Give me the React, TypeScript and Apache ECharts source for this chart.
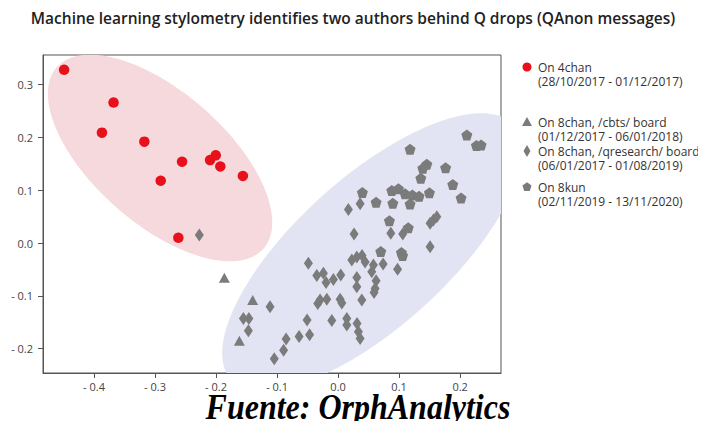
import React, { useEffect, useRef } from "react";
import * as echarts from "echarts";

// ---------- data ----------
const title =
  "Machine learning stylometry identifies two authors behind Q drops (QAnon messages)";
const sourceNote = "Fuente: OrphAnalytics";

const xTicks = [-0.4, -0.3, -0.2, -0.1, 0, 0.1, 0.2];
const yTicks = [-0.2, -0.1, 0, 0.1, 0.2, 0.3];
const xRange = [-0.4836, 0.267];
const yRange = [-0.246, 0.356];

const seriesNames = [
  "On 4chan",
  "On 8chan, /cbts/ board",
  "On 8chan, /qresearch/ board",
  "On 8kun",
];
const seriesPeriods = [
  "(28/10/2017 - 01/12/2017)",
  "(01/12/2017 - 06/01/2018)",
  "(06/01/2017 - 01/08/2019)",
  "(02/11/2019 - 13/11/2020)",
];

const on4chan: [number, number][] = [
  [-0.449, 0.328], [-0.368, 0.266], [-0.387, 0.209], [-0.3175, 0.192],
  [-0.2557, 0.154], [-0.2907, 0.118], [-0.2098, 0.157], [-0.2005, 0.166],
  [-0.193, 0.145], [-0.156, 0.127], [-0.2618, 0.01],
];

const on8chanCbts: [number, number][] = [
  [-0.1864, -0.0657], [-0.1399, -0.108], [-0.1618, -0.185],
];

const on8chanQresearch: [number, number][] = [
  [-0.2274, 0.0152], [0.0169, 0.0634], [0.0361, 0.0744], [0.0262, 0.017],
  [0.0864, 0.0184], [0.106, 0.017], [0.1508, 0.0373], [0.1562, 0.0436],
  [0.1618, 0.0498], [0.1508, -0.007], [-0.0487, -0.0384], [0.0225, -0.0322],
  [0.0307, -0.0265], [0.0393, -0.0237], [0.0443, -0.036], [0.0579, -0.0417],
  [0.0738, -0.0398], [0.0552, -0.0544], [0.0975, -0.0498], [-0.0349, -0.0616],
  [-0.0241, -0.0574], [-0.0197, -0.0748], [-0.0077, -0.0691], [0.0044, -0.0606],
  [0.0307, -0.0653], [0.0307, -0.0828], [0.0623, -0.0714], [0.0607, -0.0858],
  [0.059, -0.0938], [-0.0333, -0.1142], [-0.0295, -0.108], [-0.0185, -0.1066],
  [0.0033, -0.1066], [0.0061, -0.1136], [0.0389, -0.108], [-0.1115, -0.1206],
  [-0.1552, -0.1426], [-0.1462, -0.1426], [-0.147, -0.1661], [-0.0508, -0.1458],
  [-0.0467, -0.1737], [-0.0639, -0.1771], [-0.0103, -0.1468], [0.0143, -0.1426],
  [0.0143, -0.1553], [0.0311, -0.1521], [0.0333, -0.168], [0.0361, -0.1805],
  [-0.0852, -0.1814], [-0.0893, -0.2027], [-0.1046, -0.2191],
];

const on8kun: [number, number][] = [
  [0.211, 0.2045], [0.2267, 0.1847], [0.2344, 0.1856], [0.118, 0.1775],
  [0.1454, 0.149], [0.1389, 0.1415], [0.1762, 0.1424], [0.1356, 0.1225],
  [0.188, 0.1108], [0.2016, 0.0852], [0.1497, 0.0953], [0.088, 0.0994],
  [0.0989, 0.1028], [0.1098, 0.0934], [0.1218, 0.0909], [0.1328, 0.0884],
  [0.0398, 0.0956], [0.0623, 0.0771], [0.0897, 0.0752], [0.118, 0.0739],
  [0.0841, 0.042], [0.07, -0.0161], [0.1038, -0.018], [0.1057, -0.0237],
  [0.115, 0.029],
];

// cluster ellipses: centre and two conjugate semi-axis vectors, in data units
const authorAEllipse = { center: [-0.2918, 0.161], a: [0.1695, -0.1716], b: [0.0713, 0.0939] };
const authorBEllipse = { center: [0.0557, -0.017], a: [0.2315, 0.2407], b: [0.0823, -0.1055] };

// ---------- styles ----------
const RED = "#e8101a";
const GREY = "#7b7b7b";
const PINK = "#f6d9dc";
const LAVENDER = "#e2e4f4";
const PENTAGON = "path://M0,-1 L0.951,-0.309 L0.588,0.809 L-0.588,0.809 L-0.951,-0.309 Z";
const FONT = "'Open Sans', 'Noto Sans', sans-serif";

const fmt = (v: number) => {
  const s = Math.abs(v).toFixed(1);
  return v < -1e-9 ? "- " + s : s;
};

function ellipseSeries(e: typeof authorAEllipse, color: string) {
  return {
    type: "custom",
    silent: true,
    z: 1,
    data: [e.center],
    renderItem: (params: any, api: any) => {
      const c = api.coord(e.center);
      const pa = api.coord([e.center[0] + e.a[0], e.center[1] + e.a[1]]);
      const pb = api.coord([e.center[0] + e.b[0], e.center[1] + e.b[1]]);
      const ax = [pa[0] - c[0], pa[1] - c[1]];
      const bx = [pb[0] - c[0], pb[1] - c[1]];
      const pts: number[][] = [];
      const n = 120;
      for (let i = 0; i < n; i++) {
        const t = (i / n) * Math.PI * 2;
        pts.push([
          c[0] + Math.cos(t) * ax[0] + Math.sin(t) * bx[0],
          c[1] + Math.cos(t) * ax[1] + Math.sin(t) * bx[1],
        ]);
      }
      const cs = params.coordSys;
      return {
        type: "polygon",
        shape: { points: pts },
        style: { fill: color, stroke: "none" },
        clipPath: { type: "rect", shape: { x: cs.x, y: cs.y, width: cs.width, height: cs.height } },
      };
    },
  };
}

export default function App() {
  const ref = useRef<HTMLDivElement>(null);

  useEffect(() => {
    if (!ref.current) return;
    const chart = echarts.init(ref.current, null, { renderer: "svg" });

    const legendX = 527;
    const textX = 538;
    const legendY = [67, 122, 151, 187];
    const lineH = 14.5;
    const icons: any[] = [
      { type: "circle", shape: { cx: legendX, cy: legendY[0], r: 4.5 }, style: { fill: RED } },
      {
        type: "polygon",
        shape: { points: [[legendX, legendY[1] - 5], [legendX + 5, legendY[1] + 4], [legendX - 5, legendY[1] + 4]] },
        style: { fill: GREY },
      },
      {
        type: "polygon",
        shape: { points: [[legendX, legendY[2] - 6], [legendX + 3.5, legendY[2]], [legendX, legendY[2] + 6], [legendX - 3.5, legendY[2]]] },
        style: { fill: GREY },
      },
      {
        type: "polygon",
        shape: {
          points: [0, 1, 2, 3, 4].map((k) => {
            const ang = -Math.PI / 2 + (k * 2 * Math.PI) / 5;
            return [legendX + 4.8 * Math.cos(ang), legendY[3] + 4.8 * Math.sin(ang)];
          }),
        },
        style: { fill: GREY },
      },
    ];
    const legendTexts: any[] = seriesNames.map((name, i) => ({
      type: "text",
      x: textX,
      y: legendY[i] - lineH / 2,
      style: {
        text: name + "\n" + seriesPeriods[i],
        font: `12px ${FONT}`,
        lineHeight: lineH,
        fill: "#333",
        textVerticalAlign: "top",
      },
    }));

    const option: any = {
      animation: false,
      backgroundColor: "#ffffff",
      textStyle: { fontFamily: FONT },
      title: {
        text: title,
        left: "center",
        top: 5,
        textStyle: { fontFamily: FONT, fontSize: 15.5, fontWeight: 600, color: "#222" },
      },
      grid: {
        left: 43,
        top: 55,
        width: 458,
        height: 318,
        show: true,
        borderColor: "#555",
        borderWidth: 1,
        backgroundColor: "transparent",
        containLabel: false,
        outerBoundsMode: "none",
      },
      xAxis: {
        type: "value",
        min: xRange[0],
        max: xRange[1],
        splitLine: { show: false },
        axisLine: { show: true, onZero: false, lineStyle: { color: "#555", width: 1 } },
        axisTick: { show: true, customValues: xTicks, length: 5, lineStyle: { color: "#555" } },
        axisLabel: {
          customValues: xTicks,
          formatter: fmt,
          color: "#444",
          fontSize: 11,
          fontFamily: FONT,
          margin: 8,
        },
      },
      yAxis: {
        type: "value",
        min: yRange[0],
        max: yRange[1],
        splitLine: { show: false },
        axisLine: { show: true, onZero: false, lineStyle: { color: "#555", width: 1 } },
        axisTick: { show: true, customValues: yTicks, length: 5, lineStyle: { color: "#555" } },
        axisLabel: {
          customValues: yTicks,
          formatter: fmt,
          color: "#444",
          fontSize: 11,
          fontFamily: FONT,
          margin: 10,
        },
      },
      series: [
        ellipseSeries(authorAEllipse, PINK),
        ellipseSeries(authorBEllipse, LAVENDER),
        {
          name: seriesNames[0],
          type: "scatter",
          z: 3,
          symbol: "circle",
          symbolSize: 10.5,
          itemStyle: { color: RED, opacity: 1 },
          data: on4chan,
        },
        {
          name: seriesNames[1],
          type: "scatter",
          z: 3,
          symbol: "triangle",
          symbolSize: [11, 10],
          itemStyle: { color: GREY, opacity: 1 },
          data: on8chanCbts,
        },
        {
          name: seriesNames[2],
          type: "scatter",
          z: 3,
          symbol: "diamond",
          symbolSize: [9, 13],
          itemStyle: { color: GREY, opacity: 1 },
          data: on8chanQresearch,
        },
        {
          name: seriesNames[3],
          type: "scatter",
          z: 3,
          symbol: PENTAGON,
          symbolSize: 11,
          itemStyle: { color: GREY, opacity: 1 },
          data: on8kun,
        },
      ],
      graphic: [
        ...icons,
        ...legendTexts,
        {
          type: "text",
          x: 358,
          y: 406,
          scaleY: 1.15,
          style: {
            text: sourceNote,
            font: "italic bold 32px 'Liberation Serif', 'Times New Roman', serif",
            fill: "#000",
            textAlign: "center",
            textVerticalAlign: "middle",
          },
        },
      ],
    };

    chart.setOption(option);
    return () => chart.dispose();
  }, []);

  return <div ref={ref} style={{ width: 706, height: 429, margin: -8 }} />;
}
